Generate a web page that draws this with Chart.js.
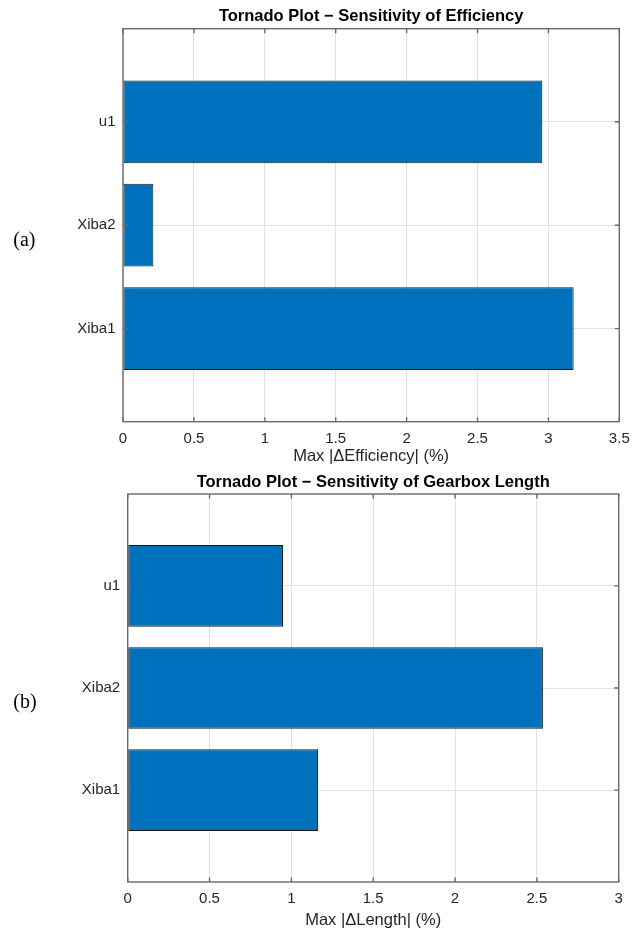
<!DOCTYPE html>
<html>
<head>
<meta charset="utf-8">
<script src="https://cdn.jsdelivr.net/npm/chart.js@4"></script>
<style>
  html, body { margin: 0; padding: 0; background: #ffffff; }
  .panel { position: absolute; left: 0; }
  canvas { display: block; }
</style>
</head>
<body>
<div class="panel" style="top:0px"><canvas id="effChart" width="641" height="468"></canvas></div>
<div class="panel" style="top:468px"><canvas id="lenChart" width="641" height="461"></canvas></div>
<script>
// Parameters, bottom to top on the vertical axis
const categories = ['Xiba1', 'Xiba2', 'u1'];
const categoryPos = [1, 2, 3];

// Max |Δ| per parameter, in percent
const efficiencyDelta = [3.178, 0.214, 2.957];
const lengthDelta = [1.163, 2.537, 0.949];

// Horizontal tick values and their labels
const efficiencyTicks = [0, 0.5, 1, 1.5, 2, 2.5, 3, 3.5];
const efficiencyTickLabels = ['0', '0.5', '1', '1.5', '2', '2.5', '3', '3.5'];
const lengthTicks = [0, 0.5, 1, 1.5, 2, 2.5, 3];
const lengthTickLabels = ['0', '0.5', '1', '1.5', '2', '2.5', '3'];

const BAR_FILL = '#0072BD';
const BAR_EDGE = '#1a1a1a';
const AXIS_COLOR = '#6a6a6a';
const GRID_COLOR = '#e2e2e2';
const TEXT_COLOR = '#262626';
const SANS = '"Liberation Sans", Arial, Helvetica, sans-serif';

// Box around the plot area with inward tick marks on all four sides
const axesBox = {
  id: 'axesBox',
  afterDatasetsDraw(chart) {
    const { ctx, chartArea: a, scales: { x, y } } = chart;
    const L = 4.5;
    ctx.save();
    ctx.strokeStyle = AXIS_COLOR;
    ctx.lineWidth = 1.4;
    ctx.beginPath();
    x.ticks.forEach(t => {
      const px = x.getPixelForValue(t.value);
      ctx.moveTo(px, a.bottom); ctx.lineTo(px, a.bottom - L);
      ctx.moveTo(px, a.top); ctx.lineTo(px, a.top + L);
    });
    y.ticks.forEach(t => {
      const py = y.getPixelForValue(t.value);
      ctx.moveTo(a.left, py); ctx.lineTo(a.left + L, py);
      ctx.moveTo(a.right, py); ctx.lineTo(a.right - L, py);
    });
    ctx.stroke();
    ctx.strokeRect(a.left, a.top, a.right - a.left, a.bottom - a.top);
    ctx.restore();
  }
};

// Panel letter on the left margin
const panelTag = {
  id: 'panelTag',
  afterDraw(chart, args, opts) {
    const { ctx } = chart;
    ctx.save();
    ctx.fillStyle = '#000000';
    ctx.font = '20px "Liberation Serif", "Times New Roman", serif';
    ctx.textAlign = 'left';
    ctx.textBaseline = 'middle';
    ctx.fillText(opts.text, opts.x, opts.y);
    ctx.restore();
  }
};

function tornado(canvasId, spec) {
  const points = categoryPos.map((p, i) => ({ x: spec.values[i], y: p }));
  return new Chart(document.getElementById(canvasId), {
    type: 'bar',
    data: {
      datasets: [{
        data: points,
        backgroundColor: BAR_FILL,
        borderColor: BAR_EDGE,
        borderWidth: 1,
        borderSkipped: false,
        barPercentage: 0.8,
        categoryPercentage: 1.0
      }]
    },
    plugins: [axesBox, panelTag],
    options: {
      indexAxis: 'y',
      responsive: false,
      animation: false,
      events: [],
      layout: { padding: { left: 0, right: spec.padRight, top: 0, bottom: 0 } },
      plugins: {
        legend: { display: false },
        tooltip: { enabled: false },
        title: {
          display: true,
          text: spec.title,
          fullSize: false,
          color: '#000000',
          font: { family: SANS, size: 16.5, weight: 'bold', lineHeight: 1.2 },
          padding: { top: spec.titleTop, bottom: spec.titleBottom }
        },
        panelTag: { text: spec.tag, x: 13.3, y: spec.tagY }
      },
      scales: {
        x: {
          type: 'linear',
          min: spec.ticks[0],
          max: spec.ticks[spec.ticks.length - 1],
          offset: false,
          afterBuildTicks(scale) { scale.ticks = spec.ticks.map(v => ({ value: v })); },
          afterFit(scale) { scale.height = spec.xAxisHeight; },
          ticks: {
            color: TEXT_COLOR,
            font: { family: SANS, size: 15, lineHeight: 1.2 },
            padding: spec.xTickPad,
            maxRotation: 0,
            autoSkip: false,
            callback: (v) => {
              const i = spec.ticks.indexOf(v);
              return i >= 0 ? spec.tickLabels[i] : '';
            }
          },
          grid: { color: GRID_COLOR, lineWidth: 1, drawTicks: false, offset: false },
          border: { display: false },
          title: {
            display: true,
            text: spec.xLabel,
            color: TEXT_COLOR,
            font: { family: SANS, size: 16.5, lineHeight: 1.0 },
            padding: { top: 0, bottom: spec.xTitlePad }
          }
        },
        y: {
          type: 'linear',
          min: 0.1,
          max: 3.9,
          offset: false,
          afterBuildTicks(scale) { scale.ticks = categoryPos.map(v => ({ value: v })); },
          afterFit(scale) { scale.width = spec.yAxisWidth; },
          ticks: {
            color: TEXT_COLOR,
            font: { family: SANS, size: 15, lineHeight: 1.2 },
            padding: 7.5,
            autoSkip: false,
            callback: (v) => {
              const i = categoryPos.indexOf(v);
              return i >= 0 ? categories[i] : '';
            }
          },
          grid: { color: GRID_COLOR, lineWidth: 1, drawTicks: false, offset: false },
          border: { display: false }
        }
      }
    }
  });
}

tornado('effChart', {
  values: efficiencyDelta,
  ticks: efficiencyTicks,
  tickLabels: efficiencyTickLabels,
  title: 'Tornado Plot \u2212 Sensitivity of Efficiency',
  xLabel: 'Max |\u0394Efficiency| (%)',
  tag: '(a)',
  tagY: 241,
  padRight: 21.7,
  yAxisWidth: 123,
  titleTop: 7,
  titleBottom: 1.9,
  xAxisHeight: 46.3,
  xTickPad: 8.3,
  xTitlePad: 3.5
});

tornado('lenChart', {
  values: lengthDelta,
  ticks: lengthTicks,
  tickLabels: lengthTickLabels,
  title: 'Tornado Plot \u2212 Sensitivity of Gearbox Length',
  xLabel: 'Max |\u0394Length| (%)',
  tag: '(b)',
  tagY: 234.7,
  padRight: 22.3,
  yAxisWidth: 127.7,
  titleTop: 4.1,
  titleBottom: 2.1,
  xAxisHeight: 47,
  xTickPad: 8,
  xTitlePad: 0
});
</script>
</body>
</html>
